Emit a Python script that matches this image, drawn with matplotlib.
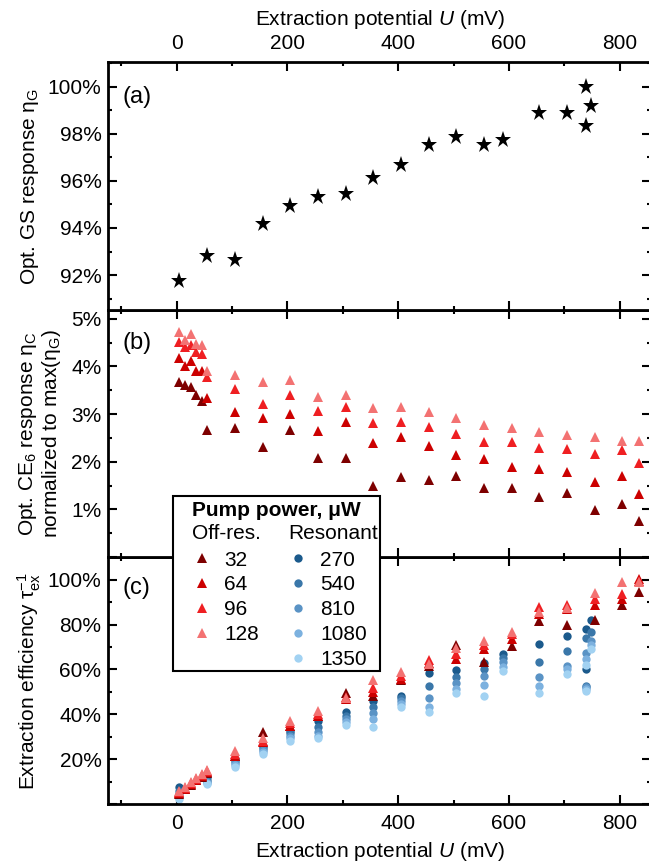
import matplotlib
matplotlib.use("Agg")
import matplotlib.pyplot as plt
from matplotlib.legend_handler import HandlerBase
from matplotlib.lines import Line2D
from matplotlib.patches import Rectangle
from matplotlib.text import Text
from matplotlib.ticker import FuncFormatter, MultipleLocator

# ---------------- data ----------------
# (a) optical ground-state response vs extraction potential
x_gs = [5, 55, 105, 155, 205, 255, 305, 355, 405, 455, 505, 555, 590, 655, 705, 740, 748, 740]
eta_g = [91.73, 92.82, 92.65, 94.16, 94.94, 95.30, 95.45, 96.11, 96.67, 97.51, 97.86, 97.52,
         97.72, 98.88, 98.88, 100.0, 99.19, 98.33]

# off-resonant pump series (µW) -> (b) CE6 response and (c) extraction efficiency
x_off = [5, 15, 25, 35, 45, 55, 105, 155, 205, 255, 305, 355, 405, 455, 505, 555, 605, 655,
         705, 755, 805, 835]
off_powers = ["32", "64", "96", "128"]
eta_c_32 = [3.68, 3.60, 3.57, 3.40, 3.27, 2.66, 2.71, 2.31, 2.66, 2.07, 2.07, 1.49, 1.68, 1.61,
            1.70, 1.44, 1.44, 1.26, 1.34, 0.98, 1.12, 0.75]
eta_c_64 = [4.18, 4.00, 4.12, 3.91, 3.90, 3.33, 3.05, 2.92, 3.01, 2.64, 2.83, 2.40, 2.52, 2.33,
            2.15, 2.05, 1.89, 1.84, 1.79, 1.58, 1.69, 1.33]
eta_c_96 = [4.52, 4.40, 4.45, 4.30, 4.27, 3.78, 3.52, 3.22, 3.40, 3.06, 3.15, 2.82, 2.84, 2.73,
            2.59, 2.42, 2.42, 2.28, 2.26, 2.17, 2.24, 1.98]
eta_c_128 = [4.72, 4.55, 4.68, 4.47, 4.45, 3.90, 3.82, 3.67, 3.72, 3.36, 3.41, 3.13, 3.15, 3.04,
             2.92, 2.78, 2.70, 2.63, 2.57, 2.51, 2.43, 2.43]
ext_off_32 = [4.7, 6.7, 8.7, 10.7, 12.3, 14.0, 21.5, 32.0, 34.8, 39.5, 49.4, 48.4, 55.5, 61.5,
              71.1, 63.2, 70.6, 81.5, 79.6, 82.1, 88.5, 94.4]
ext_off_64 = [5.0, 7.0, 9.0, 11.0, 12.6, 14.2, 21.6, 27.6, 35.0, 39.5, 46.9, 50.0, 55.8, 62.8,
              64.7, 69.2, 73.6, 84.5, 87.0, 88.5, 91.4, 100.5]
ext_off_96 = [5.4, 7.4, 9.4, 11.4, 13.0, 14.6, 22.5, 28.3, 36.0, 40.2, 47.8, 51.8, 57.0, 64.3,
              66.9, 71.0, 75.8, 88.0, 88.5, 91.4, 93.7, 99.5]
ext_off_128 = [5.8, 7.8, 9.8, 11.8, 13.5, 15.2, 23.9, 29.4, 37.2, 41.7, 47.3, 55.5, 58.8, 62.5,
               69.6, 72.9, 76.6, 85.5, 87.5, 94.0, 98.8, 98.8]

# resonant pump series (µW) -> (c) extraction efficiency
x_res = x_gs
res_powers = ["270", "540", "810", "1080", "1350"]
ext_res_270 = [7.8, 12.0, 20.2, 26.1, 32.8, 36.9, 40.9, 46.1, 48.4, 58.3, 59.8, 62.8, 66.9, 71.4,
               74.7, 78.1, 82.1, 60.2]
ext_res_540 = [6.0, 11.0, 19.3, 25.2, 31.6, 34.6, 39.5, 43.2, 47.2, 52.8, 56.5, 60.3, 65.0, 63.2,
               68.1, 73.8, 76.6, 52.5]
ext_res_810 = [4.5, 10.0, 18.3, 24.2, 30.5, 32.3, 38.0, 40.5, 46.0, 47.2, 53.9, 57.3, 63.2, 56.5,
               61.7, 67.2, 72.9, 52.1]
ext_res_1080 = [3.3, 9.5, 17.4, 23.3, 29.3, 30.6, 36.5, 38.0, 44.7, 43.5, 51.4, 53.1, 61.3, 52.8,
                60.3, 64.7, 71.1, 51.2]
ext_res_1350 = [2.4, 9.0, 16.4, 22.4, 28.0, 29.4, 35.5, 34.6, 43.5, 40.9, 49.4, 48.4, 59.5, 49.4,
                58.0, 62.2, 69.2, 50.3]

eta_c_series = [eta_c_32, eta_c_64, eta_c_96, eta_c_128]
ext_off_series = [ext_off_32, ext_off_64, ext_off_96, ext_off_128]
ext_res_series = [ext_res_270, ext_res_540, ext_res_810, ext_res_1080, ext_res_1350]

red_colors = ["#7e0000", "#cc0000", "#ef1f22", "#f37272"]
blue_colors = ["#1b5a8c", "#3a77a9", "#5a93c5", "#7cb1df", "#a2d2f2"]

# ---------------- style ----------------
plt.rcParams.update({
    "font.family": ["Liberation Sans", "DejaVu Sans"],
    "font.size": 15,
    "mathtext.fontset": "custom",
    "mathtext.rm": "Liberation Sans",
    "mathtext.it": "Liberation Sans:italic",
    "mathtext.bf": "Liberation Sans:bold",
    "axes.linewidth": 2.0,
    "xtick.direction": "in",
    "ytick.direction": "in",
    "xtick.major.size": 6.5,
    "ytick.major.size": 6.5,
    "xtick.minor.size": 3.2,
    "ytick.minor.size": 3.2,
    "xtick.major.width": 1.5,
    "ytick.major.width": 1.5,
    "xtick.minor.width": 1.5,
    "ytick.minor.width": 1.5,
})

fig = plt.figure(figsize=(6.49, 8.65), dpi=100)
W, H = 649.0, 865.0
left = 108.4 / W
width = (651.0 - 108.4) / W
ph = 247.3 / H
bot_c = 1 - 804.3 / H
ax_c = fig.add_axes([left, bot_c, width, ph])
ax_b = fig.add_axes([left, bot_c + ph, width, ph], sharex=ax_c)
ax_a = fig.add_axes([left, bot_c + 2 * ph, width, ph], sharex=ax_c)

pct = FuncFormatter(lambda v, pos: f"{v:.0f}%" if v > 0 else "")

for ax in (ax_a, ax_b, ax_c):
    ax.set_xlim(-123.4, 856.7)
    ax.xaxis.set_major_locator(MultipleLocator(200))
    ax.xaxis.set_minor_locator(MultipleLocator(100))
    ax.tick_params(which="both", top=True, bottom=True, left=True, right=True,
                   labeltop=False, labelbottom=False)
    ax.tick_params(axis="y", pad=5)
    ax.tick_params(axis="x", pad=7)
    ax.yaxis.set_major_formatter(pct)

xlabel = r"Extraction potential $\mathit{U}$ (mV)"

# (a)
ax_a.plot(x_gs, eta_g, ls="none", marker="*", ms=12.5, color="black", mew=0)
ax_a.set_ylim(90.53, 101.03)
ax_a.yaxis.set_major_locator(MultipleLocator(2))
ax_a.yaxis.set_minor_locator(MultipleLocator(1))
ax_a.tick_params(labeltop=True)
ax_a.xaxis.set_label_position("top")
ax_a.set_xlabel(xlabel, labelpad=6)
ax_a.set_ylabel(r"Opt. GS response η$_\mathregular{G}$")
ax_a.yaxis.set_label_coords(-0.124, 0.5)
ax_a.text(0.026, 0.862, "(a)", transform=ax_a.transAxes, fontsize=17, va="center", ha="left")

# (b)
for vals, col in zip(eta_c_series, red_colors):
    ax_b.plot(x_off, vals, ls="none", marker="^", ms=7.5, color=col, mew=0)
ax_b.set_ylim(0, 5.19)
ax_b.yaxis.set_major_locator(MultipleLocator(1))
ax_b.yaxis.set_minor_locator(MultipleLocator(0.5))
ax_b.set_ylabel("Opt. CE$_\\mathregular{6}$ response η$_\\mathregular{C}$\n"
                "normalized to max(η$_\\mathregular{G}$)", linespacing=1.05)
ax_b.yaxis.set_label_coords(-0.084, 0.5)
ax_b.text(0.026, 0.866, "(b)", transform=ax_b.transAxes, fontsize=17, va="center", ha="left")

# (c)
res_handles = []
for vals, col in zip(ext_res_series, blue_colors):
    h, = ax_c.plot(x_res, vals, ls="none", marker="o", ms=6, color=col, mew=0)
    res_handles.append(h)
off_handles = []
for vals, col in zip(ext_off_series, red_colors):
    h, = ax_c.plot(x_off, vals, ls="none", marker="^", ms=7.5, color=col, mew=0)
    off_handles.append(h)
ax_c.set_ylim(0, 110.07)
ax_c.yaxis.set_major_locator(MultipleLocator(20))
ax_c.yaxis.set_minor_locator(MultipleLocator(10))
ax_c.tick_params(labelbottom=True)
ax_c.set_xlabel(xlabel, labelpad=5)
ax_c.set_ylabel(r"Extraction efficiency $\mathregular{τ_{ex}^{-1}}$")
ax_c.yaxis.set_label_coords(-0.12, 0.5)
ax_c.text(0.026, 0.874, "(c)", transform=ax_c.transAxes, fontsize=17, va="center", ha="left")


# ---------------- legend ----------------
class ColumnHeader:
    def __init__(self, text):
        self.text = text


class ColumnHeaderHandler(HandlerBase):
    def create_artists(self, legend, orig_handle, xdescent, ydescent, width, height,
                       fontsize, trans):
        return [Text(-xdescent, height / 2 - ydescent, orig_handle.text, fontsize=fontsize,
                     ha="left", va="center", transform=trans)]


blank = Line2D([], [], ls="none")
handles = [ColumnHeader("Off-res.")] + off_handles + [blank] + \
          [ColumnHeader("Resonant")] + res_handles
labels = [""] + off_powers + [""] + [""] + res_powers

# legend frame box
fig.add_artist(Rectangle((173 / W, 1 - 670.7 / H), (380 - 173) / W, (670.7 - 495.7) / H,
                         transform=fig.transFigure, facecolor="white", edgecolor="black",
                         linewidth=1.5, zorder=4))
leg = fig.legend(handles, labels, handler_map={ColumnHeader: ColumnHeaderHandler()},
                 loc="upper left", bbox_to_anchor=(191.7 / W, 1 - 501.0 / H),
                 bbox_transform=fig.transFigure, ncol=2, title="Pump power, μW",
                 title_fontproperties={"weight": "bold", "size": 15}, alignment="left",
                 frameon=False, borderaxespad=0, borderpad=0, handlelength=0.95,
                 handletextpad=0.6, columnspacing=1.4, labelspacing=0.28, numpoints=1,
                 fontsize=15)
leg.set_zorder(5)

fig.savefig("out.png", dpi=100)
